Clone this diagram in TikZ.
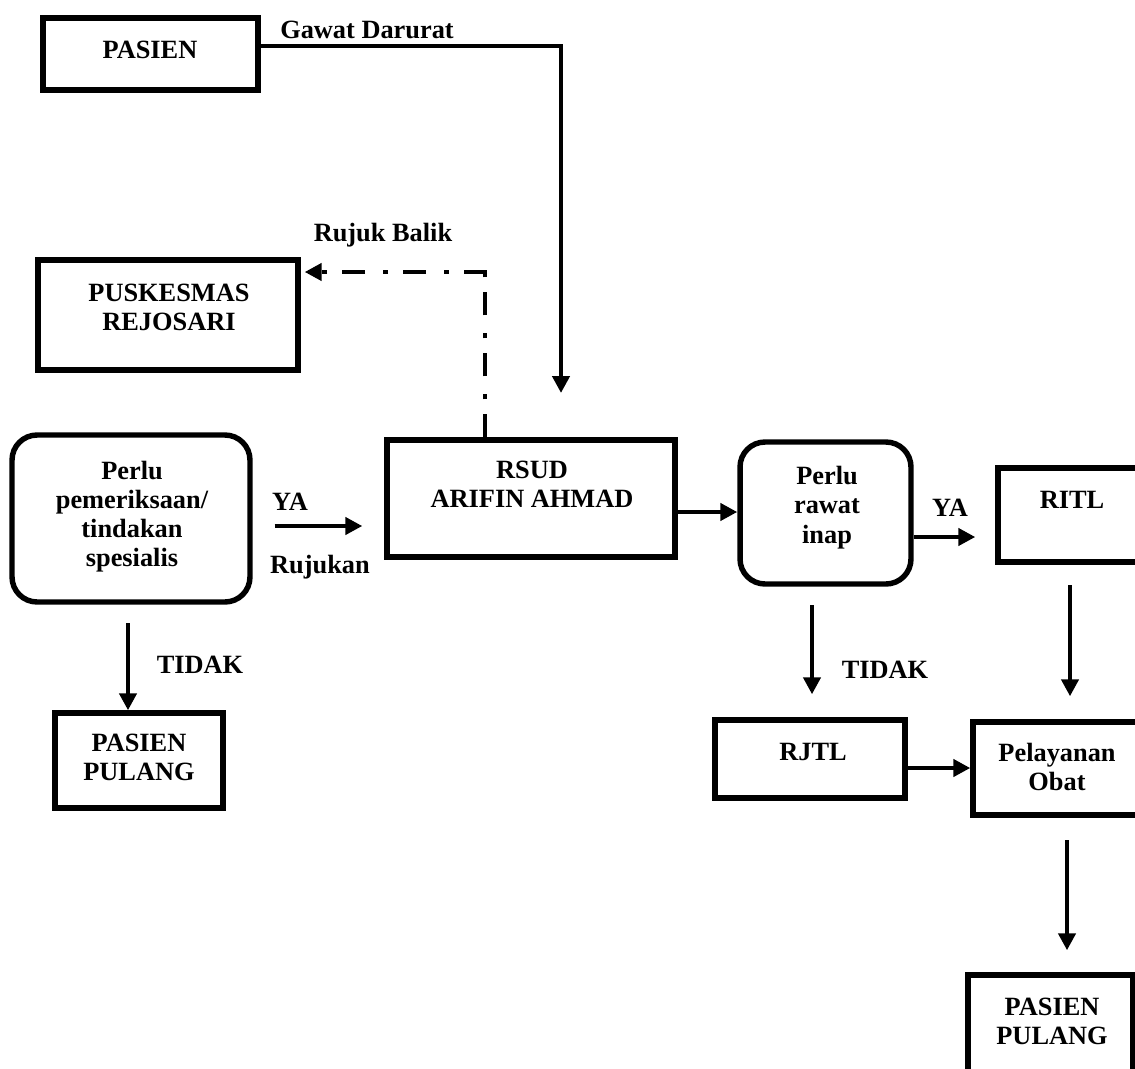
\documentclass[tikz,border=0pt]{standalone}
\usepackage{fontspec}
\setmainfont{Liberation Serif}
\usetikzlibrary{arrows.meta}
\begin{document}
\begin{tikzpicture}[x=0.02cm, y=-0.02cm,
  box/.style={draw, line width=3.1pt, inner sep=0pt},
  rbox/.style={box, rounded corners=0.5cm},
  txt/.style={font=\bfseries\fontsize{15}{16.6}\selectfont, align=center, inner sep=0pt},
  arr/.style={line width=2.8pt, -{Triangle[length=0.34cm,width=0.34cm]}},
  dashdot/.style={line width=2.8pt, dash pattern=on 0.46cm off 0.3cm on 0.1cm off 0.36cm},
]
\useasboundingbox (0,0) rectangle (1135,1068);
\clip (0,0) rectangle (1135,1068);

% boxes
\node[box, minimum width=4.3cm, minimum height=1.44cm] (pasien) at (150.5,54) {};
\node[txt] (pasient) at (150,50) {PASIEN};

\node[box, minimum width=5.2cm, minimum height=2.2cm] (pusk) at (168,315) {};
\node[txt] (puskt) at (169,307) {PUSKESMAS\\REJOSARI};

\node[rbox, minimum width=4.76cm, minimum height=3.34cm] (perlu1) at (131,518.5) {};
\node[txt] (perlu1t) at (132,516.5) {Perlu\\pemeriksaan/\\tindakan\\spesialis};

\node[box, minimum width=3.36cm, minimum height=1.9cm] (pp1) at (139,760.5) {};
\node[txt] (pp1t) at (139,757.5) {PASIEN\\PULANG};

\node[box, minimum width=5.76cm, minimum height=2.34cm] (rsud) at (531,498.5) {};
\node[txt] (rsudt) at (532,484) {RSUD\\ARIFIN AHMAD};

\node[rbox, minimum width=3.42cm, minimum height=2.84cm] (perlu2) at (825.5,513) {};
\node[txt] (perlu2t) at (827,507.5) {Perlu\\rawat\\inap};

\node[box, minimum width=2.94cm, minimum height=1.88cm] (ritl) at (1071.5,515) {};
\node[txt] (ritlt) at (1072,500) {RITL};

\node[box, minimum width=3.8cm, minimum height=1.56cm] (rjtl) at (810,759) {};
\node[txt] (rjtlt) at (813,752) {RJTL};

\node[box, minimum width=3.36cm, minimum height=1.86cm] (plo) at (1057,768.5) {};
\node[txt] (plot) at (1057,767) {Pelayanan\\Obat};

\node[box, minimum width=3.3cm, minimum height=1.94cm] (pp2) at (1050.5,1023.5) {};
\node[txt] (pp2t) at (1052,1021) {PASIEN\\PULANG};

% labels
\node[txt] (gd) at (367,30) {Gawat Darurat};
\node[txt] (rb) at (383,235) {Rujuk Balik};
\node[txt] (ya1) at (290,502) {YA};
\node[txt] (ruj) at (320,567) {Rujukan};
\node[txt] (td1) at (200,665) {TIDAK};
\node[txt] (ya2) at (950,508) {YA};
\node[txt] (td2) at (885,670) {TIDAK};

% helper coordinates
\coordinate (g1) at (561,46);
\coordinate (gend) at (561,393);
\coordinate (rbc) at (485,272);
\coordinate (y1) at (0,526);
\coordinate (y2) at (0,512);
\coordinate (y3) at (0,537);
\coordinate (y4) at (0,768);
\coordinate (a1) at (128,623);
\coordinate (a2) at (812,605);
\coordinate (a3) at (1070,585);
\coordinate (a4) at (1067,840);

% connectors
\draw[arr] (pasien.east |- g1) -- (g1) -- (gend);
\draw[dashdot] (rsud.north -| rbc) -- (rbc);
\draw[dashdot, -{Triangle[length=0.34cm,width=0.34cm]}] ([xshift=0.04cm]rbc) -- ([xshift=0.08cm]pusk.east |- rbc);
\draw[arr, shorten <=0.44cm, shorten >=0.44cm] (perlu1.east |- y1) -- (rsud.west |- y1);
\draw[arr] (a1) -- (a1 |- pp1.north);
\draw[arr] (rsud.east |- y2) -- (perlu2.west |- y2);
\draw[arr, shorten >=0.4cm] (perlu2.east |- y3) -- (ritl.west |- y3);
\draw[arr, shorten >=0.46cm] (a2) -- (a2 |- rjtl.north);
\draw[arr, shorten >=0.46cm] (a3) -- (a3 |- plo.north);
\draw[arr] (rjtl.east |- y4) -- (plo.west |- y4);
\draw[arr, shorten >=0.44cm] (a4) -- (a4 |- pp2.north);
\end{tikzpicture}
\end{document}
